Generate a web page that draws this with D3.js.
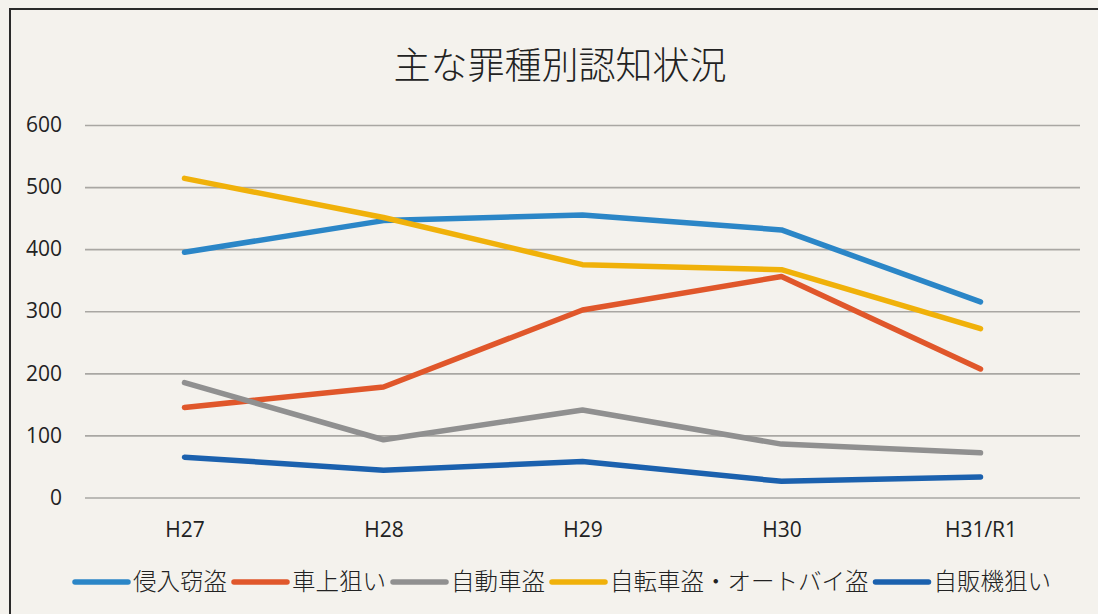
<!DOCTYPE html>
<html>
<head>
<meta charset="utf-8">
<script src="https://cdn.jsdelivr.net/npm/d3@7"></script>
<style>
    html, body { margin: 0; padding: 0; background: #f4f2ed; overflow: hidden; }
    svg { display: block; }
</style>
</head>
<body>
<div id="chart"></div>
<script>
var categories = ["H27", "H28", "H29", "H30", "H31/R1"];
var seriesNames = ["侵入窃盗", "車上狙い", "自動車盗", "自転車盗・オートバイ盗", "自販機狙い"];
var shinnyuSettou = [395, 446, 455, 431, 315];
var shajouNerai = [145, 178, 302, 356, 207];
var jidoushaTou = [185, 93, 141, 86, 72];
var jitenshaTou = [514, 451, 375, 367, 272];
var jihankiNerai = [65, 44, 58, 26, 33];
var yTicks = [0, 100, 200, 300, 400, 500, 600];
var colors = ["#2b86c7", "#e0572b", "#909090", "#f0b10a", "#1b61ae"];

var width = 1098, height = 614;
var jpFont = "'Noto Sans CJK JP', 'Noto Sans', sans-serif";
var numFont = "'Open Sans', 'Liberation Sans', sans-serif";

var series = [shinnyuSettou, shajouNerai, jidoushaTou, jitenshaTou, jihankiNerai]
    .map(function (vals, i) {
        return { name: seriesNames[i], color: colors[i], values: vals };
    });

var svg = d3.select("#chart")
    .append("svg")
    .attr("width", width)
    .attr("height", height);

// paper background + frame (only top and left edges are in the picture)
svg.append("rect")
    .attr("width", width)
    .attr("height", height)
    .attr("fill", "#f4f2ed");
svg.append("path")
    .attr("d", "M10," + height + "V9H" + width)
    .attr("fill", "none")
    .attr("stroke", "#2a2a2a")
    .attr("stroke-width", 2);

var x = d3.scalePoint()
    .domain(categories)
    .range([85, 1080])
    .padding(0.5);

var y = d3.scaleLinear()
    .domain([0, 600])
    .range([497.5, 125]);

// title
svg.append("text")
    .attr("x", 560)
    .attr("y", 79)
    .attr("text-anchor", "middle")
    .style("font-family", jpFont)
    .style("font-weight", 300)
    .style("font-size", "37px")
    .attr("fill", "#222")
    .text("主な罪種別認知状況");

// gridlines
var yAxis = d3.axisLeft(y)
    .tickValues(yTicks)
    .tickSize(-(1080 - 85))
    .tickPadding(23);
var gy = svg.append("g")
    .attr("transform", "translate(85,0)")
    .call(yAxis);
gy.select(".domain").remove();
gy.selectAll(".tick line")
    .attr("stroke", "#a9a7a3")
    .attr("stroke-width", 1.6);
gy.selectAll(".tick text")
    .style("font-family", numFont)
    .style("font-size", "21px")
    .attr("fill", "#222");

// x axis labels
var xAxis = d3.axisBottom(x)
    .tickSize(0)
    .tickPadding(17);
var gx = svg.append("g")
    .attr("transform", "translate(0,505)")
    .call(xAxis);
gx.select(".domain").remove();
gx.selectAll(".tick text")
    .style("font-family", numFont)
    .style("font-size", "21px")
    .attr("fill", "#222");

// lines
var line = d3.line()
    .x(function (d, i) { return x(categories[i]); })
    .y(function (d) { return y(d); });

svg.append("g")
    .selectAll("path")
    .data(series)
    .join("path")
    .attr("d", function (d) { return line(d.values); })
    .attr("fill", "none")
    .attr("stroke", function (d) { return d.color; })
    .attr("stroke-width", 5.5)
    .attr("stroke-linejoin", "round")
    .attr("stroke-linecap", "round");

// legend
var legend = svg.append("g");
var swatchW = 55, gapA = 5, gapB = 5;
var cursor = 0;
series.forEach(function (s) {
    var g = legend.append("g");
    g.append("line")
        .attr("x1", cursor + 2)
        .attr("x2", cursor + swatchW)
        .attr("y1", 0)
        .attr("y2", 0)
        .attr("stroke", s.color)
        .attr("stroke-width", 5.5)
        .attr("stroke-linecap", "round");
    var t = g.append("text")
        .attr("x", cursor + swatchW + gapA)
        .attr("y", 0)
        .attr("dy", "0.36em")
        .style("font-family", jpFont)
        .style("font-weight", 300)
        .style("font-size", "23.5px")
        .attr("fill", "#222")
        .text(s.name);
    var w = t.node().getComputedTextLength();
    cursor += swatchW + gapA + w + gapB;
});
var totalW = cursor - gapB;
legend.attr("transform", "translate(" + (562 - totalW / 2) + ",582)");
</script>
</body>
</html>
